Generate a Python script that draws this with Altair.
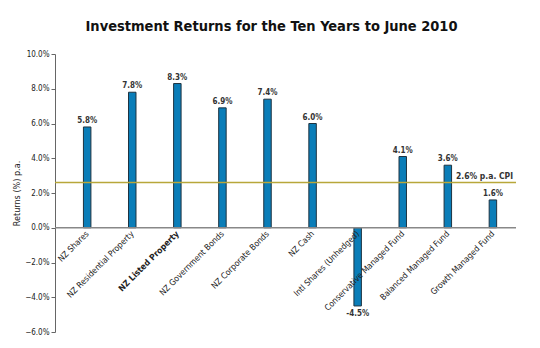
import altair as alt
import pandas as pd

categories = ["NZ Shares", "NZ Residential Property", "NZ Listed Property",
              "NZ Government Bonds", "NZ Corporate Bonds", "NZ Cash",
              "Intl Shares (Unhedged)", "Conservative Managed Fund",
              "Balanced Managed Fund", "Growth Managed Fund"]
returns = [5.8, 7.8, 8.3, 6.9, 7.4, 6.0, -4.5, 4.1, 3.6, 1.6]
cpi = 2.6
y_ticks = [-6, -4, -2, 0, 2, 4, 6, 8, 10]

FONT = "Liberation Sans Narrow, DejaVu Sans Condensed, sans-serif"

df = pd.DataFrame({"cat": categories, "ret": returns})
df["label"] = [f"{v:.1f}%" for v in returns]
cpi_df = pd.DataFrame({"ret": [cpi], "t": [f"{cpi:.1f}% p.a. CPI"]})
zero_df = pd.DataFrame({"ret": [0]})

W, H = 461, 278
Y_MIN, Y_MAX = -6, 10
zero_offset = -H * (0 - Y_MIN) / (Y_MAX - Y_MIN)

x_scale = alt.Scale(paddingInner=0.834, paddingOuter=0.53, align=0.595)
x_axis = alt.Axis(labelAngle=-45, labelAlign="right", labelBaseline="middle",
                  labelFontSize=8.5, labelColor="#222", labelFont=FONT,
                  labelFontWeight=alt.ExprRef("datum.value == 'NZ Listed Property' ? 'bold' : 'normal'"),
                  ticks=False, domain=False, labelPadding=4, labelOverlap=False,
                  offset=zero_offset, zindex=2)
y_scale = alt.Scale(domain=[Y_MIN, Y_MAX], nice=False, zero=False)
y_axis = alt.Axis(values=y_ticks, tickCount=9, labelExpr="format(datum.value, '.1f') + '%'",
                  grid=False, domainColor="#666", tickColor="#666", tickSize=4,
                  labelOverlap=False, labelBound=False,
                  labelFontSize=8, labelColor="#222", labelFont=FONT,
                  titleFont=FONT, titleFontSize=9, titleFontWeight="normal",
                  titleColor="#222", titlePadding=3)

X = alt.X("cat:N", sort=categories, title=None, scale=x_scale, axis=x_axis)
Y = alt.Y("ret:Q", scale=y_scale, title="Returns (%) p.a.", axis=y_axis)

bars = alt.Chart(df).mark_bar(color="#0a7db8", stroke="#1e3340", strokeWidth=1).encode(
    x=X, y=Y, y2=alt.datum(0))

pos = alt.Chart(df).transform_filter("datum.ret >= 0").mark_text(
    dy=-6, fontSize=8, font=FONT, fontWeight="bold", color="#333").encode(
    x=X, y=Y, text="label:N")
neg = alt.Chart(df).transform_filter("datum.ret < 0").mark_text(
    dy=8, fontSize=8, font=FONT, fontWeight="bold", color="#333").encode(
    x=X, y=Y, text="label:N")

zero = alt.Chart(zero_df).mark_rule(color="#888", strokeWidth=1.5).encode(y=Y)
cpi_line = alt.Chart(cpi_df).mark_rule(color="#b8a73a", strokeWidth=1.5).encode(y=Y)
cpi_text = alt.Chart(cpi_df).mark_text(align="right", dy=-7, fontSize=8.5, font=FONT,
                                       fontWeight="bold", color="#333").encode(
    x=alt.value(W - 3), y=Y, text="t:N")

chart = alt.layer(bars, zero, cpi_line, pos, neg, cpi_text).properties(
    width=W, height=H,
    autosize=alt.AutoSizeParams(type="none"),
    padding={"left": 55, "top": 54, "right": 24, "bottom": 16},
    title=alt.Title("Investment Returns for the Ten Years to June 2010",
                    anchor="middle", dx=-14, offset=16, fontSize=14.5,
                    font=FONT, fontWeight="bold", color="#111"),
).configure_view(stroke=None)

chart.save("out.html", embed_options={"renderer": "svg", "actions": False})
